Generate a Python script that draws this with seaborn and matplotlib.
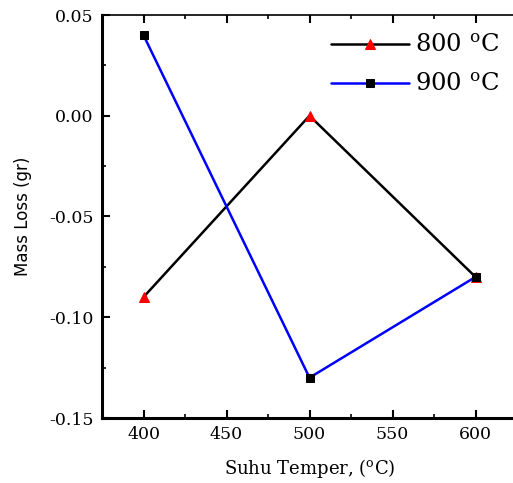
import matplotlib
matplotlib.use("Agg")
import matplotlib.pyplot as plt
import seaborn as sns
import pandas as pd
from matplotlib.ticker import MultipleLocator, FormatStrFormatter

# Measured mass loss at each tempering temperature
temperature = [400, 500, 600]
loss_800 = [-0.09, 0.00, -0.08]
loss_900 = [0.04, -0.13, -0.08]
series_labels = ["800 $^{\\rm o}$C", "900 $^{\\rm o}$C"]

sns.set_theme(style="ticks")
plt.rcParams["font.family"] = ["DejaVu Serif"]
plt.rcParams["mathtext.fontset"] = "dejavuserif"
for key in ("text.color", "axes.labelcolor", "xtick.color", "ytick.color", "axes.edgecolor"):
    plt.rcParams[key] = "black"

df = pd.concat([
    pd.DataFrame({"temp": temperature, "loss": loss_800, "series": series_labels[0]}),
    pd.DataFrame({"temp": temperature, "loss": loss_900, "series": series_labels[1]}),
])

fig = plt.figure(figsize=(5.13, 4.83), dpi=100)
ax = fig.add_axes([102 / 513, 65 / 483, 415 / 513, 403 / 483])

sns.lineplot(data=df[df.series == series_labels[0]], x="temp", y="loss", ax=ax,
             color="black", lw=1.8, marker="^", markersize=7,
             markerfacecolor="red", markeredgecolor="red", label=series_labels[0])
sns.lineplot(data=df[df.series == series_labels[1]], x="temp", y="loss", ax=ax,
             color="blue", lw=1.8, marker="s", markersize=6,
             markerfacecolor="black", markeredgecolor="black", label=series_labels[1])

ax.set_xlim(375, 625)
ax.set_ylim(-0.15, 0.05)
ax.xaxis.set_major_locator(MultipleLocator(50))
ax.xaxis.set_minor_locator(MultipleLocator(25))
ax.yaxis.set_major_locator(MultipleLocator(0.05))
ax.yaxis.set_minor_locator(MultipleLocator(0.025))
ax.yaxis.set_major_formatter(FormatStrFormatter("%.2f"))

ax.tick_params(which="major", direction="in", length=6, width=1.5, labelsize=12.5,
               top=True, pad=6)
ax.tick_params(which="minor", direction="in", length=3, width=1.2, top=True)
for lab in ax.get_xticklabels() + ax.get_yticklabels():
    lab.set_family("DejaVu Serif")
for side in ("left", "bottom"):
    ax.spines[side].set_linewidth(2.2)
ax.spines["top"].set_linewidth(1.2)
ax.spines["right"].set_linewidth(1.2)

ax.set_xlabel("Suhu Temper, ($^{\\rm o}$C)", fontsize=13, labelpad=10)
ax.set_ylabel("Mass Loss (gr)", fontsize=12, labelpad=12,
              family=["Liberation Sans Narrow", "DejaVu Sans"])

leg = ax.legend(loc="upper left", bbox_to_anchor=(0.505, 1.0), frameon=False,
                fontsize=17.5, handlelength=3.2, handletextpad=0.25, labelspacing=0.65,
                borderaxespad=0.4)

fig.savefig("out.png", dpi=100)
